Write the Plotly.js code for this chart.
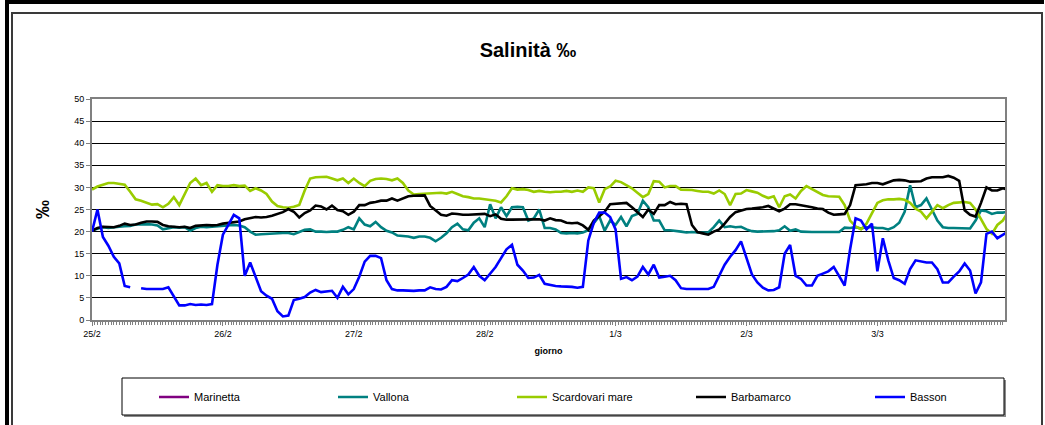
<!DOCTYPE html>
<html>
<head>
<meta charset="utf-8">
<script src="https://cdn.plot.ly/plotly-3.0.1.min.js"></script>
<style>
  html, body { margin: 0; padding: 0; background: #fff; }
  #wrap { position: relative; width: 1045px; height: 425px; overflow: hidden; }
  #chart { position: absolute; left: 0; top: 0; width: 1045px; height: 425px; }
  .frame { position: absolute; pointer-events: none; }
</style>
</head>
<body>
<div id="wrap">
  <div id="chart"></div>
  <div class="frame" style="left:7px;top:0;width:1037px;height:4px;background:#000;"></div>
  <div class="frame" style="left:5px;top:0;width:4px;height:425px;background:#000;"></div>
  <div class="frame" style="left:11px;top:12px;width:1028px;height:430px;border:2px solid #3a3a3a;"></div>
</div>
<script>
// Day tick labels (one label per day, hourly samples)
const dayLabels = ["25/2", "26/2", "27/2", "28/2", "1/3", "2/3", "3/3"];

// Series values, hourly from 25/2 00:00 (salinity ‰)
const marinetta = [null];

const vallona = [
  20.3, 20.6, 21.0, 20.8, 21.0, 21.1, 21.2, 21.3, 21.6, 21.7, 21.7, 21.6, 21.4, 20.5, 20.8, 21.0, 20.9, 21.0, 20.2, 20.8, 21.1, 21.0, 21.1, 21.2,
  21.3, 21.5, 21.5, 21.4, 21.0, 20.0, 19.3, 19.4, 19.5, 19.5, 19.6, 19.7, 19.7, 19.4, 19.9, 20.4, 20.5, 20.0, 20.0, 19.9, 20.0, 20.0, 20.4, 21.0,
  20.5, 23.0, 21.6, 21.2, 22.2, 21.0, 20.2, 19.8, 19.1, 19.0, 18.9, 18.6, 18.9, 18.9, 18.6, 17.8, 18.6, 19.6, 21.0, 21.8, 20.5, 20.3, 22.0, 23.0,
  21.0, 26.2, 23.0, 25.5, 23.5, 25.5, 25.6, 25.5, 22.5, 23.0, 25.0, 20.8, 20.8, 20.5, 19.7, 19.6, 19.7, 19.6, 19.8, 20.3, 22.0, 23.5, 20.2, 22.5,
  21.5, 23.3, 21.2, 23.5, 24.0, 27.0, 25.5, 22.5, 22.5, 20.3, 20.3, 20.2, 20.0, 19.8, 19.9, 19.8, 19.8, 19.8, 21.0, 22.5, 21.0, 21.2, 21.0, 21.1,
  20.5, 20.1, 20.0, 20.0, 20.0, 20.1, 20.3, 21.2, 20.2, 20.5, 20.0, 19.9, 19.9, 19.9, 19.9, 19.8, 19.8, 19.9, 20.9, 20.8, 21.0, 20.7, 21.0, 21.0,
  20.8, 20.8, 20.5, 21.0, 22.0, 24.5, 30.5, 25.5, 26.0, 27.5, 25.0, 22.5, 21.0, 20.8, 20.8, 20.8, 20.8, 20.7, 22.5, 24.8, 24.6, 24.0, 24.3, 24.3, 24.5
];

const scardovari = [
  29.5, 30.2, 30.6, 31.0, 31.0, 30.8, 30.6, 29.0, 27.3, 27.0, 26.6, 26.1, 26.2, 25.5, 26.3, 27.8, 26.0, 28.5, 31.0, 32.0, 30.5, 31.0, 29.0, 30.5,
  30.3, 30.3, 30.5, 30.3, 30.4, 29.2, 29.8, 29.3, 28.5, 26.8, 25.8, 25.5, 25.4, 25.6, 26.0, 29.3, 32.0, 32.3, 32.3, 32.4, 32.0, 31.6, 32.0, 31.0,
  32.0, 31.0, 30.3, 31.5, 31.9, 32.0, 31.9, 31.6, 32.0, 31.0, 29.3, 28.4, 28.5, 28.6, 28.7, 28.8, 28.8, 28.6, 29.0, 28.5, 28.0, 27.8, 27.5, 27.5,
  27.3, 27.2, 27.0, 26.6, 28.0, 29.8, 29.5, 29.6, 29.4, 29.0, 29.2, 29.0, 28.9, 29.0, 29.0, 29.2, 29.0, 29.3, 29.0, 30.0, 29.8, 26.6, 29.6, 30.2,
  31.5, 31.2, 30.5, 29.8, 28.8, 27.8, 28.5, 31.4, 31.3, 30.0, 30.3, 30.3, 29.5, 29.5, 29.4, 29.2, 29.0, 29.0, 28.6, 29.3, 28.5, 26.0, 28.5, 28.6,
  29.4, 29.1, 28.8, 28.1, 27.6, 28.0, 25.5, 28.0, 28.4, 27.5, 29.2, 30.3, 29.6, 29.0, 28.3, 28.0, 28.0, 27.9, 26.0, 22.5, 21.2, 20.5, 21.8, 24.0,
  26.5, 27.1, 27.3, 27.3, 27.4, 27.2, 26.5, 25.2, 24.5, 23.0, 24.5, 26.0, 25.3, 26.0, 26.5, 26.6, 26.7, 26.5, 25.0, 22.8, 20.6, 19.5, 21.5, 22.5, 24.5
];

const barbamarco = [
  20.2, 20.8, 21.1, 21.0, 21.0, 21.3, 21.8, 21.5, 21.6, 22.0, 22.3, 22.3, 22.2, 21.5, 21.2, 21.1, 21.0, 21.1, 20.8, 21.3, 21.4, 21.5, 21.4, 21.5,
  21.8, 22.0, 22.2, 22.3, 22.8, 23.1, 23.3, 23.2, 23.3, 23.6, 24.0, 24.4, 25.1, 24.5, 23.2, 24.2, 24.8, 25.9, 25.7, 25.0, 25.9, 24.9, 24.6, 23.8,
  24.5, 26.0, 26.0, 26.5, 26.7, 27.0, 27.0, 27.5, 27.0, 27.5, 28.0, 28.1, 28.1, 28.2, 25.8, 24.8, 23.8, 23.6, 24.1, 24.0, 23.8, 23.8, 23.9, 24.0,
  24.0, 23.5, 23.9, 22.9, 22.7, 22.7, 22.7, 22.7, 22.7, 22.7, 22.8, 22.5, 23.0, 22.6, 22.5, 22.0, 21.9, 22.0, 21.4, 20.4, 22.5, 23.5, 24.5, 26.2,
  26.3, 26.3, 26.5, 25.5, 24.5, 23.3, 25.0, 24.0, 26.0, 26.0, 26.7, 26.2, 26.3, 26.2, 21.5, 19.9, 19.6, 19.3, 20.0, 20.5, 21.8, 23.3, 24.4, 24.8,
  25.1, 25.2, 25.3, 25.5, 25.8, 25.2, 24.6, 25.2, 26.2, 26.2, 26.0, 25.8, 25.5, 25.2, 25.1, 24.3, 23.8, 23.9, 24.0, 26.0, 30.5, 30.6, 30.7, 31.0,
  31.0, 30.7, 31.1, 31.6, 31.7, 31.6, 31.3, 31.3, 31.4, 32.0, 32.3, 32.3, 32.3, 32.6, 32.2, 31.5, 24.8, 23.8, 23.4, 26.5, 30.0, 29.3, 29.3, 29.8, 29.5
];

const basson = [
  20.0, 25.0, 18.8, 16.8, 14.3, 12.8, 7.7, 7.4, null, 7.2, 7.0, 7.0, 7.0, 7.0, 7.4, 5.2, 3.3, 3.3, 3.6, 3.4, 3.5, 3.4, 3.6, 12.5,
  19.3, 21.5, 23.8, 23.0, 10.0, 13.0, 9.8, 6.5, 5.5, 4.8, 2.0, 0.8, 1.0, 4.5, 4.8, 5.2, 6.2, 6.8, 6.3, 6.5, 6.6, 5.0, 7.5, 5.8,
  7.0, 9.8, 13.2, 14.5, 14.5, 14.0, 9.0, 7.0, 6.7, 6.7, 6.6, 6.6, 6.7, 6.7, 7.4, 7.0, 6.9, 7.5, 9.0, 8.8, 9.5, 10.3, 12.0, 10.0,
  9.0, 10.5, 12.0, 14.0, 16.0, 17.0, 12.5, 11.2, 9.5, 9.6, 10.2, 8.2, 7.9, 7.7, 7.6, 7.6, 7.5, 7.3, 7.5, 18.0, 22.0, 24.3, 24.3, 23.3,
  20.5, 9.3, 9.7, 9.0, 9.8, 12.0, 10.3, 12.5, 9.6, 9.8, 10.0, 9.0, 7.2, 7.0, 7.0, 7.0, 7.0, 7.0, 7.5, 10.0, 12.5, 14.3, 15.8, 17.8,
  14.0, 10.3, 8.5, 7.3, 6.7, 6.8, 7.4, 15.0, 17.0, 10.0, 9.3, 7.8, 7.8, 10.0, 10.5, 11.0, 12.0, 9.8, 7.8, 16.0, 23.0, 22.5, 20.5, 21.8,
  11.0, 18.5, 13.5, 9.5, 9.0, 8.2, 11.5, 13.5, 13.2, 13.0, 13.0, 11.5, 8.5, 8.5, 9.8, 11.0, 12.8, 11.2, 6.0, 8.5, 19.5, 20.0, 18.5, 19.3, 20.0
];

// category positions (in days from 25/2) for each hourly sample
const hourX = vallona.map((_, i) => i / 24);
const dayTicks = dayLabels.map((_, i) => i);

const W = 1045, H = 425;
const M = { l: 92, r: 40, t: 99, b: 105, autoexpand: false };
const PW = W - M.l - M.r, PH = H - M.t - M.b;
const px = v => (v - M.l) / PW;
const py = v => (H - M.b - v) / PH;

function series(name, y, color) {
  return {
    type: 'scatter', mode: 'lines', name: name,
    x: y.length === hourX.length ? hourX : hourX.slice(0, y.length), y: y,
    line: { color: color, width: 2.6 },
    connectgaps: false, hoverinfo: 'skip'
  };
}

const data = [
  series('Marinetta', marinetta, '#800080'),
  series('Vallona', vallona, '#008080'),
  series('Scardovari mare', scardovari, '#99CC00'),
  series('Barbamarco', barbamarco, '#000000'),
  series('Basson', basson, '#0000FF')
];

const font = 'Liberation Sans, Arial, sans-serif';

const layout = {
  width: W, height: H,
  margin: M,
  paper_bgcolor: '#ffffff',
  plot_bgcolor: '#ffffff',
  font: { family: font, color: '#000' },
  showlegend: true,
  title: {
    text: '<b>Salinità ‰</b>',
    font: { family: font, size: 20, color: '#000' },
    xref: 'container', x: 528 / W, xanchor: 'center',
    yref: 'container', y: 1 - 50 / H, yanchor: 'middle'
  },
  xaxis: {
    range: [0, 167.4 / 24],
    tickmode: 'array', tickvals: dayTicks, ticktext: dayLabels,
    ticks: 'outside', ticklen: 4, tickcolor: '#808080', tickwidth: 1,
    minor: { dtick: 1 / 48, tick0: 0, ticks: 'outside', ticklen: 3, tickcolor: '#808080', tickwidth: 1, showgrid: false },
    showgrid: false, zeroline: false,
    showline: true, linecolor: '#808080', linewidth: 2, mirror: true,
    tickfont: { family: font, size: 9, color: '#000' },
    title: { text: '<b>giorno</b>', font: { family: font, size: 9, color: '#000' }, standoff: 10 }
  },
  yaxis: {
    range: [0, 50], dtick: 5, tick0: 0,
    ticks: 'outside', ticklen: 4, tickcolor: '#808080',
    showgrid: true, gridcolor: '#000000', gridwidth: 1,
    zeroline: false,
    showline: true, linecolor: '#808080', linewidth: 2, mirror: true,
    tickfont: { family: font, size: 9, color: '#000' },
    title: { text: '<b>‰</b>', font: { family: font, size: 19, color: '#000' }, standoff: 20 }
  },
  legend: {
    orientation: 'h',
    x: px(154), xanchor: 'left',
    y: py(397), yanchor: 'middle',
    bgcolor: 'rgba(0,0,0,0)', borderwidth: 0,
    font: { family: font, size: 11, color: '#000' },
    itemwidth: 30,
    entrywidth: 134, entrywidthmode: 'pixels',
    traceorder: 'normal'
  },
  shapes: [
    { type: 'rect', xref: 'paper', yref: 'paper',
      x0: px(124), x1: px(1006), y0: py(380), y1: py(417),
      line: { width: 0 }, fillcolor: '#8a8a8a', layer: 'below' },
    { type: 'rect', xref: 'paper', yref: 'paper',
      x0: px(122), x1: px(1004), y0: py(378), y1: py(415),
      line: { color: '#000', width: 1 }, fillcolor: '#ffffff', layer: 'below' }
  ]
};

Plotly.newPlot('chart', data, layout, { displayModeBar: false, staticPlot: true });
</script>
</body>
</html>
